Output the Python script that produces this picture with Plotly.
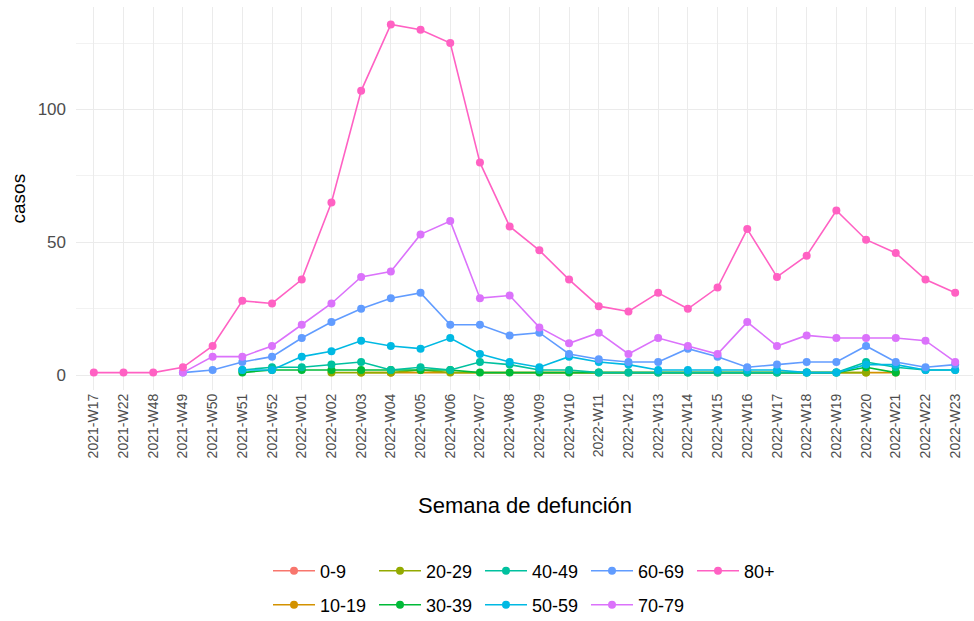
import plotly.graph_objects as go

weeks = ["2021-W17", "2021-W22", "2021-W48", "2021-W49", "2021-W50", "2021-W51", "2021-W52",
         "2022-W01", "2022-W02", "2022-W03", "2022-W04", "2022-W05", "2022-W06", "2022-W07",
         "2022-W08", "2022-W09", "2022-W10", "2022-W11", "2022-W12", "2022-W13", "2022-W14",
         "2022-W15", "2022-W16", "2022-W17", "2022-W18", "2022-W19", "2022-W20", "2022-W21",
         "2022-W22", "2022-W23"]

N = None
g_0_9 = [N, N, N, N, N, N, N, N, N, N, 1, N, N, N, N, N, N, N, N, N, N, N, N, N, N, N, N, N, N, N]
g_10_19 = [N, N, N, N, N, N, N, N, N, 1, 1, N, N, N, N, N, N, N, N, N, N, N, N, N, N, N, 1, 1, N, N]
g_20_29 = [N, N, N, N, N, N, N, N, 1, 1, 1, 2, 1, N, N, N, N, N, N, N, N, N, N, N, N, N, 1, N, N, N]
g_30_39 = [N, N, N, N, N, 1, 2, 2, 2, 2, 2, 2, 2, 1, 1, 1, 1, 1, 1, 1, 1, 1, 1, 1, 1, 1, 3, 1, N, N]
g_40_49 = [N, N, N, N, N, 2, 3, 3, 4, 5, 2, 3, 2, 5, 4, 2, 2, 1, 1, 1, 1, 1, 1, 1, 1, 1, 5, 3, 2, 2]
g_50_59 = [N, N, N, N, N, 2, 2, 7, 9, 13, 11, 10, 14, 8, 5, 3, 7, 5, 4, 2, 2, 2, 2, 2, 1, 1, 4, 4, 2, 2]
g_60_69 = [N, N, N, 1, 2, 5, 7, 14, 20, 25, 29, 31, 19, 19, 15, 16, 8, 6, 5, 5, 10, 7, 3, 4, 5, 5, 11, 5, 3, 4]
g_70_79 = [N, N, N, 1, 7, 7, 11, 19, 27, 37, 39, 53, 58, 29, 30, 18, 12, 16, 8, 14, 11, 8, 20, 11, 15, 14, 14, 14, 13, 5]
g_80 = [1, 1, 1, 3, 11, 28, 27, 36, 65, 107, 132, 130, 125, 80, 56, 47, 36, 26, 24, 31, 25, 33, 55, 37, 45, 62, 51, 46, 36, 31]

groups = ["0-9", "10-19", "20-29", "30-39", "40-49", "50-59", "60-69", "70-79", "80+"]
series = [g_0_9, g_10_19, g_20_29, g_30_39, g_40_49, g_50_59, g_60_69, g_70_79, g_80]
colors = ["#F8766D", "#D39200", "#93AA00", "#00BA38", "#00C19F", "#00B9E3", "#619CFF", "#DB72FB", "#FF61C3"]

fig = go.Figure()
for i, (name, vals, col) in enumerate(zip(groups, series, colors)):
    row = "legend" if i % 2 == 0 else "legend2"
    fig.add_trace(go.Scatter(
        x=weeks, y=vals, name=name, mode="lines+markers",
        connectgaps=True,
        line=dict(color=col, width=1.6),
        marker=dict(color=col, size=8),
        legend=row,
    ))

font_family = "Liberation Sans, Arial, sans-serif"
legend_common = dict(
    orientation="h", xanchor="left", yanchor="middle",
    font=dict(family=font_family, size=18, color="#000000"),
    bgcolor="rgba(0,0,0,0)", entrywidth=49, entrywidthmode="pixels",
    itemwidth=42,
    itemclick=False, itemdoubleclick=False,
)

# plot panel: x 76..973, y 7..390 (pixels)
fig.update_layout(
    width=974, height=621,
    margin=dict(l=76, r=1, t=7, b=231, autoexpand=False),
    plot_bgcolor="white", paper_bgcolor="white",
    font=dict(family=font_family),
    showlegend=True,
    legend=dict(x=(268 - 76) / 897, y=(390 - 571) / 383, **legend_common),
    legend2=dict(x=(268 - 76) / 897, y=(390 - 605) / 383, **legend_common),
    xaxis=dict(
        type="category", categoryorder="array", categoryarray=weeks,
        range=[-0.6, 29.6], tickangle=-90, automargin=False,
        tickfont=dict(size=14, color="#4D4D4D"),
        showgrid=True, gridcolor="#EBEBEB", gridwidth=1,
        zeroline=False, showline=False, ticks="",
    ),
    yaxis=dict(
        range=[-5.55, 138.55], tickvals=[0, 50, 100], automargin=False,
        tickfont=dict(size=17, color="#4D4D4D"),
        showgrid=True, gridcolor="#EBEBEB", gridwidth=1,
        minor=dict(tickvals=[25, 75, 125], showgrid=True, gridcolor="#F2F2F2", gridwidth=1),
        zeroline=False, showline=False, ticks="", ticklabelstandoff=9,
    ),
    annotations=[
        dict(text="Semana de defunción", xref="paper", yref="paper",
             x=0.5, y=(390 - 505) / 383, xanchor="center", yanchor="middle",
             showarrow=False, font=dict(size=22, color="#000000")),
        dict(text="casos", xref="paper", yref="paper",
             x=(18 - 76) / 897, y=0.5, xanchor="center", yanchor="middle",
             textangle=-90, showarrow=False, font=dict(size=19, color="#000000")),
    ],
)

fig.write_html("out.html", config={"displayModeBar": False},
               post_script="document.body.style.margin='0';document.body.style.overflow='hidden';")
